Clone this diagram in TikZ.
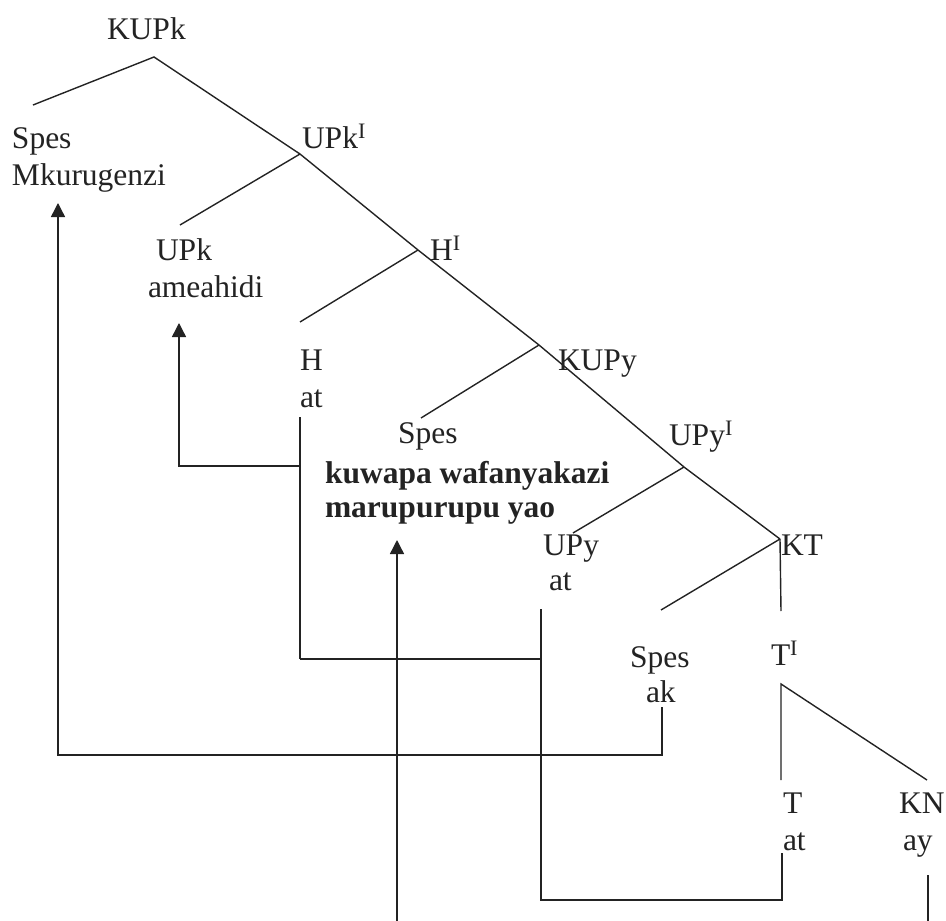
\documentclass[tikz,border=0pt]{standalone}
\usepackage{fontspec}
\setmainfont{Liberation Serif}
\usetikzlibrary{arrows.meta}
\definecolor{ink}{RGB}{35,35,35}
\begin{document}
\begin{tikzpicture}[x=1pt,y=-1pt,
  lbl/.style={anchor=base west,inner sep=0pt,outer sep=0pt,text=ink,font=\fontsize{31.5}{37}\selectfont},
  bld/.style={lbl,font=\fontsize{31.5}{37}\selectfont\bfseries},
  edge/.style={draw=ink,line width=1.4pt},
  mv/.style={draw=ink,line width=1.4pt},
  mvarrow/.style={mv,-{Triangle[width=14pt,length=14pt]}}]
\useasboundingbox (0,0) rectangle (946,921);
% junctions
\coordinate (jKUPk) at (154,57);
\coordinate (jUPkI) at (300,154);
\coordinate (jHI) at (418,250);
\coordinate (jKUPy) at (539,345);
\coordinate (jUPyI) at (684,467);
\coordinate (jKT) at (780,539);
\coordinate (jTI) at (781,684);
% branch ends
\coordinate (eSpesA) at (33,105);
\coordinate (eUPk) at (180,225);
\coordinate (eH) at (300,322);
\coordinate (eSpesB) at (421,418);
\coordinate (eUPy) at (573,533);
\coordinate (eSpesC) at (661,610);
\coordinate (eTI) at (781,611);
\coordinate (eT) at (781,780);
\coordinate (eKN) at (927,780);
% labels
\node[lbl] (kupk) at (107,39) {KUPk};
\node[lbl] (spesA) at (12,148) {Spes};
\node[lbl] (mkur) at (12,185) {Mkurugenzi};
\node[lbl] (upkI) at (302,148) {UPk\textsuperscript{I}};
\node[lbl] (upk) at (156,260) {UPk};
\node[lbl] (ameahidi) at (148,297) {ameahidi};
\node[lbl] (hI) at (430,260) {H\textsuperscript{I}};
\node[lbl] (h) at (300,370) {H};
\node[lbl] (hat) at (300,407) {at};
\node[lbl] (kupy) at (558,370) {KUPy};
\node[lbl] (spesB) at (398,443) {Spes};
\node[bld] (kuwapa) at (325,483) {kuwapa wafanyakazi};
\node[bld] (marup) at (325,517) {marupurupu yao};
\node[lbl] (upyI) at (669,445) {UPy\textsuperscript{I}};
\node[lbl] (upy) at (543,555) {UPy};
\node[lbl] (upyat) at (549,590) {at};
\node[lbl] (kt) at (781,555) {KT};
\node[lbl] (spesC) at (630,667) {Spes};
\node[lbl] (ak) at (646,702) {ak};
\node[lbl] (tI) at (771,665) {T\textsuperscript{I}};
\node[lbl] (t) at (783,813) {T};
\node[lbl] (tat) at (783,850) {at};
\node[lbl] (kn) at (899,813) {KN};
\node[lbl] (ay) at (903,850) {ay};
% tree
\draw[edge] (eSpesA) -- (jKUPk) -- (jUPkI) -- (jHI) -- (jKUPy) -- (jUPyI) -- (jKT);
\draw[edge] (jUPkI) -- (eUPk);
\draw[edge] (jHI) -- (eH);
\draw[edge] (jKUPy) -- (eSpesB);
\draw[edge] (jUPyI) -- (eUPy);
\draw[edge] (jKT) -- (eSpesC);
\draw[edge] (jKT) -- (eTI);
\draw[edge] (eT) -- (jTI) -- (eKN);
% movement lines
\coordinate (akTop) at (662,707);
\coordinate (akLow) at (662,755);
\coordinate (leftLow) at (58,755);
\coordinate (leftTip) at (58,203);
\draw[mvarrow] (akTop) -- (akLow) -- (leftLow) -- (leftTip);
\coordinate (hTop) at (300,417);
\coordinate (hMid) at (300,466);
\coordinate (hLow) at (300,659);
\coordinate (ameLow) at (179,466);
\coordinate (ameTip) at (179,323);
\draw[mv] (hTop) -- (hLow);
\draw[mvarrow] (hMid) -- (ameLow) -- (ameTip);
\coordinate (upyTop) at (541,609);
\coordinate (upyMid) at (541,659);
\coordinate (upyLow) at (541,900);
\coordinate (tLow) at (782,900);
\coordinate (tTop) at (782,853);
\draw[mv] (hLow) -- (upyMid);
\draw[mv] (upyTop) -- (upyLow) -- (tLow) -- (tTop);
\coordinate (bBot) at (397,921);
\coordinate (bTip) at (397,540);
\draw[mvarrow] (bBot) -- (bTip);
\coordinate (knTop) at (928,875);
\coordinate (knBot) at (928,921);
\draw[mv] (knTop) -- (knBot);
\end{tikzpicture}
\end{document}
